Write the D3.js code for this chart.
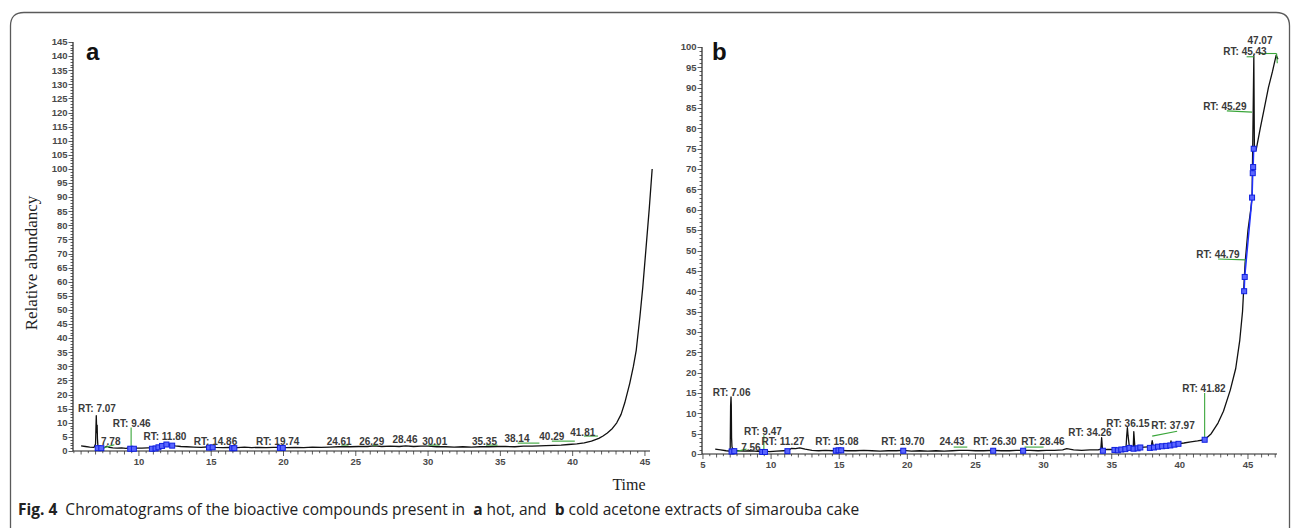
<!DOCTYPE html>
<html><head><meta charset="utf-8">
<script src="https://cdn.jsdelivr.net/npm/d3@7"></script>
<style>
html,body{margin:0;padding:0;background:#fff;}
svg{display:block;}
</style></head>
<body>
<svg id="c" width="1293" height="528"></svg>
<script>
// ---------- DATA ----------
// Panel a (hot acetone extract): time (min), relative abundance
const traceA_time = [6.0,6.3,6.6,6.9,7.0,7.03,7.05,7.07,7.09,7.11,7.13,7.16,7.2,7.3,7.45,7.6,7.78,7.95,8.2,8.5,8.8,9.1,9.46,9.8,10.2,10.6,11.0,11.3,11.55,11.8,12.0,12.2,12.5,12.9,13.3,13.8,14.3,14.86,15.3,15.8,16.3,16.8,17.3,17.8,18.3,18.8,19.3,19.74,20.2,20.8,21.4,22.0,22.6,23.2,23.8,24.61,25.2,25.8,26.29,26.8,27.4,28.0,28.46,29.0,29.5,30.01,30.6,31.2,31.8,32.4,33.0,33.6,34.2,34.8,35.35,36.0,36.6,37.2,37.7,38.14,38.7,39.2,39.7,40.29,40.8,41.3,41.81,42.1,42.4,42.75,43.05,43.35,43.6,43.95,44.2,44.4,44.65,44.85,45.06,45.3,45.5];
const traceA_abund = [1.8,1.6,1.4,1.3,2.5,8.8,12.5,9.0,6.5,9.2,4.5,2.0,1.3,1.1,1.0,1.2,1.7,1.3,1.1,1.0,1.1,0.9,1.2,1.0,1.0,1.1,1.2,1.5,2.0,2.8,2.5,2.2,1.8,1.6,1.5,1.4,1.3,1.5,1.3,1.2,1.3,1.2,1.4,1.2,1.3,1.2,1.3,1.3,1.2,1.3,1.2,1.4,1.3,1.4,1.5,1.5,1.6,1.6,1.8,1.6,1.7,1.6,1.8,1.6,1.7,1.7,1.5,1.5,1.4,1.5,1.4,1.5,1.5,1.6,1.6,1.5,1.7,1.7,1.8,1.9,2.0,2.1,2.3,2.5,2.9,3.5,4.5,5.3,6.4,8.0,10.0,13.0,17.0,24.0,30.0,35.8,47.5,58.0,71.0,86.0,100.0];

// Panel b (cold acetone extract)
const traceB_time = [5.9,6.3,6.7,6.95,7.0,7.03,7.06,7.08,7.1,7.13,7.2,7.4,7.6,8.0,8.4,8.8,9.2,9.47,9.9,10.4,10.9,11.27,11.5,11.8,12.1,12.5,13.0,13.5,14.0,14.5,15.08,15.6,16.2,16.8,17.4,18.0,18.6,19.2,19.7,20.3,20.9,21.5,22.1,22.7,23.3,23.8,24.43,25.0,25.6,26.3,26.9,27.5,28.0,28.46,29.0,29.6,30.2,30.8,31.4,31.7,32.2,32.8,33.4,34.0,34.2,34.26,34.32,34.6,35.0,35.4,35.8,36.05,36.1,36.15,36.2,36.3,36.5,36.58,36.62,36.7,37.0,37.4,37.9,37.97,38.05,38.4,38.8,39.3,39.35,39.4,39.8,40.3,40.8,41.3,41.82,42.3,42.8,43.2,43.7,44.1,44.4,44.6,44.79,45.0,45.2,45.3,45.38,45.43,45.47,45.6,45.9,46.2,46.5,46.8,47.07,47.2];
const traceB_abund = [1.2,1.0,0.8,0.7,1.5,12.0,14.0,12.0,4.0,1.8,1.0,0.8,0.8,0.7,0.8,0.7,0.6,0.7,0.6,0.7,0.8,0.9,1.4,1.3,1.5,1.2,0.9,0.8,0.9,0.8,0.9,0.8,0.8,0.9,0.8,0.7,0.8,0.8,0.9,0.7,0.8,0.7,0.8,0.7,0.8,0.9,0.9,0.8,0.8,0.9,0.8,0.8,0.9,0.9,0.9,0.8,0.9,0.9,1.0,1.3,1.0,0.9,1.0,1.0,1.2,4.0,1.2,1.1,1.1,1.3,1.4,1.6,4.5,6.5,4.5,1.6,1.6,1.7,5.5,1.7,1.6,1.7,1.8,3.3,1.9,2.0,2.1,2.3,3.2,2.3,2.5,2.7,3.0,3.2,3.5,5.0,7.6,10.5,15.7,21.0,28.0,35.0,47.0,55.0,60.0,63.0,84.0,98.0,75.0,74.7,80.0,85.0,90.0,94.0,98.0,97.0];

// axis tick labels
const yTicksA = d3.range(0, 146, 5);
const yTicksB = d3.range(0, 101, 5);
const xTicksA = [10,15,20,25,30,35,40,45];
const xTicksB = [5,10,15,20,25,30,35,40,45];

// peak annotations: [text, time, abundance]
const labelsA = [["RT: 7.07",7.1,14.9],["7.78",8.05,3.2],["RT: 9.46",9.5,9.9],["RT: 11.80",11.8,5.0],["RT: 14.86",15.3,3.2],["RT: 19.74",19.6,3.2],["24.61",23.85,3.5],["26.29",26.1,3.5],["28.46",28.4,3.9],["30.01",30.46,3.5],["35.35",33.9,3.5],["38.14",36.15,4.6],["40.29",38.56,5.0],["41.81",40.7,6.7]];
const leadersA = [[7.55,1.1,8.3,2.2],[9.46,0.9,9.46,8.3],[24.0,2.1,24.5,2.1],[26.2,2.0,26.5,2.2],[30.0,2.1,30.8,2.1],[34.0,2.1,34.8,2.1],[36.2,2.8,37.7,2.8],[38.56,3.5,40.15,3.5],[40.78,5.3,41.75,5.3]];
const labelsB = [["RT: 7.06",7.1,15.2],["7.56",8.52,1.7],["RT: 9.47",9.4,5.65],["RT: 11.27",10.87,2.95],["RT: 15.08",14.83,2.95],["RT: 19.70",19.68,2.95],["24.43",23.28,2.95],["RT: 26.30",26.43,2.95],["RT: 28.46",29.95,2.95],["RT: 34.26",33.4,5.16],["RT: 36.15",36.19,7.6],["RT: 37.97",39.5,6.9],["RT: 41.82",41.77,16.2],["RT: 44.79",42.8,49.1],["RT: 45.29",43.3,85.3],["RT: 45.43",44.78,98.8],["47.07",45.88,101.5]];
const leadersB = [[7.25,0.5,8.2,1.2],[9.47,0.5,9.47,4.6],[23.4,1.7,24.4,1.7],[28.6,1.7,30.0,1.7],[37.97,4.4,39.8,5.6],[41.82,3.6,41.82,15.0],[42.8,47.9,44.85,47.7],[44.85,47.7,44.79,46.5],[43.45,84.3,45.3,84.0],[44.9,97.6,45.43,97.6],[45.88,98.4,47.1,98.4],[47.1,98.4,47.15,96.0]];

// integration markers (groups of [time, abundance])
const markersA = [[[7.15,1.0],[7.4,1.0]],[[9.4,0.8],[9.65,0.8]],[[10.9,0.8],[11.15,0.9],[11.35,1.3],[11.6,1.8],[11.9,2.3],[12.3,1.9]],[[14.85,1.2],[15.1,1.3]],[[16.45,1.0],[16.6,1.0]],[[19.75,1.1],[19.95,1.1]]];
const markersB = [[[7.1,0.6],[7.3,0.7]],[[9.35,0.5],[9.55,0.5]],[[11.2,0.7]],[[14.75,0.8],[14.95,0.9],[15.15,0.9]],[[19.7,0.8]],[[26.3,0.8]],[[28.5,0.8]],[[34.35,0.8]],[[35.2,1.0],[35.45,0.9],[35.7,1.1],[36.0,1.2],[36.3,1.5],[36.6,1.3],[36.9,1.4],[37.1,1.6]],[[37.8,1.5],[38.1,1.6],[38.4,1.8],[38.7,1.9],[39.0,2.0],[39.3,2.1],[39.6,2.3],[39.9,2.5]],[[41.82,3.5]],[[44.72,40],[44.76,43.5],[45.3,63],[45.35,69],[45.38,70.5],[45.42,75]]];

const captionBold = "Fig. 4";
const captionParts = [["  Chromatograms of the bioactive compounds present in  ",false],["a",true],[" hot, and  ",false],["b",true],[" cold acetone extracts of simarouba cake",false]];

// ---------- DRAW ----------
const svg = d3.select("#c");
// frame
svg.append("path")
  .attr("d","M10.5,540 L10.5,26 Q10.5,12.5 24,12.5 L1276,12.5 Q1289.5,12.5 1289.5,26 L1289.5,540")
  .attr("fill","none").attr("stroke","#5a5a5a").attr("stroke-width",1.3);

const tickFont = "'Liberation Sans', Arial, sans-serif";

function panel(cfg){
  const g = svg.append("g");
  const x = d3.scaleLinear().domain(cfg.xd).range(cfg.xr);
  const y = d3.scaleLinear().domain(cfg.yd).range(cfg.yr);
  const x0 = cfg.xr[0], yb = cfg.yr[0];
  // axes lines
  g.append("line").attr("x1",x0).attr("x2",x0).attr("y1",cfg.yr[0]).attr("y2",cfg.yr[1]).attr("stroke","#222").attr("stroke-width",1.2);
  g.append("line").attr("x1",x0).attr("x2",cfg.xr[1]).attr("y1",yb).attr("y2",yb).attr("stroke","#222").attr("stroke-width",1.2);
  // y minor ticks
  const yMinor = d3.range(cfg.yd[0], cfg.yd[1]+0.01, 1);
  g.selectAll(null).data(yMinor).enter().append("line")
    .attr("x1",x0).attr("x2",d=> d%5===0 ? x0-4.5 : x0-2.5)
    .attr("y1",d=>Math.round(y(d))+0.5).attr("y2",d=>Math.round(y(d))+0.5)
    .attr("stroke","#333").attr("stroke-width",0.8);
  g.selectAll(null).data(cfg.yt).enter().append("text")
    .attr("x",x0-5.5).attr("y",d=>y(d)).attr("dy","0.35em")
    .attr("text-anchor","end").attr("font-family",tickFont).attr("font-weight","bold")
    .attr("font-size",9.5).attr("fill","#4a4a4a").text(d=>d);
  // x ticks
  const xMinor = d3.range(Math.ceil(cfg.xd[0]*2)/2, cfg.xd[1]+0.01, 0.5);
  g.selectAll(null).data(xMinor).enter().append("line")
    .attr("x1",d=>x(d)).attr("x2",d=>x(d)).attr("y1",yb)
    .attr("y2",d=> d%5===0 ? yb+5 : (d%1===0 ? yb+3.5 : yb+2.2))
    .attr("stroke","#333").attr("stroke-width",0.8);
  g.selectAll(null).data(cfg.xt).enter().append("text")
    .attr("x",d=>x(d)).attr("y",yb+11).attr("dy","0.35em")
    .attr("text-anchor","middle").attr("font-family",tickFont).attr("font-weight","bold")
    .attr("font-size",9.5).attr("fill","#4a4a4a").text(d=>d);
  // trace
  const pts = cfg.t.map((t,i)=>[t,cfg.a[i]]);
  g.append("path").datum(pts)
    .attr("d", d3.line().x(d=>x(d[0])).y(d=>y(d[1])))
    .attr("fill","none").attr("stroke","#111").attr("stroke-width",1.3).attr("stroke-linejoin","round");
  // leaders
  g.selectAll(null).data(cfg.leaders).enter().append("line")
    .attr("x1",d=>x(d[0])).attr("y1",d=>y(d[1])).attr("x2",d=>x(d[2])).attr("y2",d=>y(d[3]))
    .attr("stroke","#3aa63a").attr("stroke-width",1.1);
  // markers
  cfg.markers.forEach(grp=>{
    if(grp.length>1){
      g.append("path").datum(grp).attr("d",d3.line().x(d=>x(d[0])).y(d=>y(d[1])))
        .attr("fill","none").attr("stroke","#2030ff").attr("stroke-width",1.5);
    }
    g.selectAll(null).data(grp).enter().append("rect")
      .attr("x",d=>x(d[0])-2.5).attr("y",d=>y(d[1])-2.5).attr("width",5).attr("height",5)
      .attr("fill","#5a66ff").attr("stroke","#1020e0").attr("stroke-width",1);
  });
  // labels
  g.selectAll(null).data(cfg.labels).enter().append("text")
    .attr("x",d=>x(d[1])).attr("y",d=>y(d[2])).attr("dy","0.35em")
    .attr("text-anchor","middle").attr("font-family",tickFont).attr("font-weight","bold")
    .attr("font-size",10).attr("fill","#3a3a3a").text(d=>d[0]);
  // panel letter
  g.append("text").attr("x",cfg.letterX).attr("y",60).attr("font-family",tickFont)
    .attr("font-weight","bold").attr("font-size",24).attr("fill","#111").text(cfg.letter);
}

panel({xd:[5.44,45.35], xr:[73,650], yd:[0,145], yr:[451,42], yt:yTicksA, xt:xTicksA,
  t:traceA_time, a:traceA_abund, leaders:leadersA, markers:markersA, labels:labelsA, letter:"a", letterX:86});
panel({xd:[4.93,47.13], xr:[702,1277], yd:[0,100], yr:[454,47], yt:yTicksB, xt:xTicksB,
  t:traceB_time, a:traceB_abund, leaders:leadersB, markers:markersB, labels:labelsB, letter:"b", letterX:712});

// axis titles
svg.append("text").attr("transform","translate(37,263) rotate(-90)")
  .attr("text-anchor","middle").attr("font-family","'Liberation Serif', 'Times New Roman', serif")
  .attr("font-size",17).attr("fill","#222").text("Relative abundancy");
svg.append("text").attr("x",629).attr("y",490).attr("text-anchor","middle")
  .attr("font-family","'Liberation Serif', 'Times New Roman', serif")
  .attr("font-size",16).attr("fill","#222").text("Time");

// caption
const cap = svg.append("text").attr("x",18).attr("y",515)
  .attr("font-family","'Open Sans', 'Noto Sans', sans-serif").attr("font-size",13).attr("fill","#222")
  .attr("xml:space","preserve");
cap.append("tspan").attr("font-weight","bold").text(captionBold);
captionParts.forEach(p=>{
  cap.append("tspan").attr("font-weight", p[1] ? "bold" : "normal").text(p[0]);
});
// fit the caption to the reference width
const w = cap.node().getComputedTextLength();
const target = 842;
cap.attr("font-size", 13*target/w);
</script>
</body></html>
